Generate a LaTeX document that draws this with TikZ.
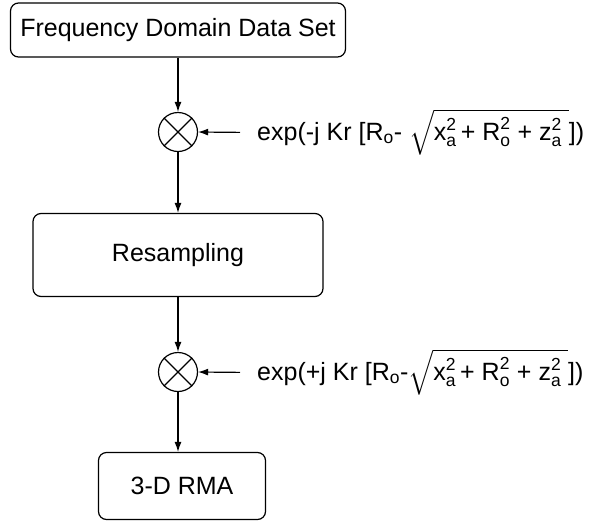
\documentclass[tikz,border=0pt]{standalone}
\usepackage{amsmath}
\usepackage{fontspec}
\setmainfont{Liberation Sans}
\usetikzlibrary{arrows.meta}

% subscripted / squared terms of the phase factor
\newcommand{\Rnull}{R$_{\text{o}}$}
\newcommand{\sqterm}[2]{$\text{#1}^{\text{2}}_{\text{#2}}$}
\newcommand{\rootterm}{$\sqrt{\rule[-15pt]{0pt}{42pt}\text{\sqterm{x}{a}\,+ \sqterm{R}{o} + \sqterm{z}{a}\ }}$}

\tikzset{
  block/.style={draw, rounded corners=8pt, line width=1.2pt, inner sep=0pt,
    font=\fontsize{25}{30}\selectfont},
  mixer/.style={draw, circle, line width=1.2pt, minimum size=39pt, inner sep=0pt},
  factor/.style={anchor=base west, inner sep=0pt, font=\fontsize{25}{30}\selectfont},
  flow/.style={line width=1.2pt, -{Latex[length=10pt,width=7pt]}},
}

\begin{document}
\begin{tikzpicture}[x=1pt,y=-1pt]
\useasboundingbox (0,0) rectangle (590,523);

% blocks
\node[block, minimum width=335pt, minimum height=54pt] (data) at (178,30) {Frequency Domain Data Set};
\node[block, minimum width=290pt, minimum height=83pt] (resamp) at (178,255) {Resampling};
\node[block, minimum width=167pt, minimum height=67pt] (rma) at (182,486) {3-D RMA};

% multipliers
\node[mixer] (mix1) at (178,132) {};
\draw[line width=1.2pt] (mix1.north west) -- (mix1.south east) (mix1.north east) -- (mix1.south west);
\node[mixer] (mix2) at (178,372) {};
\draw[line width=1.2pt] (mix2.north west) -- (mix2.south east) (mix2.north east) -- (mix2.south west);

% phase factors
\node[factor] (phase1) at (257,140) {exp(-j Kr [\Rnull-\ \rootterm])};
\node[factor] (phase2) at (257,380) {exp(+j Kr [\Rnull -\rootterm])};

\draw[flow] (data) -- (mix1);
\draw[flow] (mix1) -- (resamp);
\draw[flow] (resamp) -- (mix2);
\draw[flow] (mix2) -- (mix2 |- rma.north);
\draw[flow] (phase1.west -| 240,0) -- (mix1.east);
\draw[flow] (phase2.west -| 240,0) -- (mix2.east);
\end{tikzpicture}
\end{document}
